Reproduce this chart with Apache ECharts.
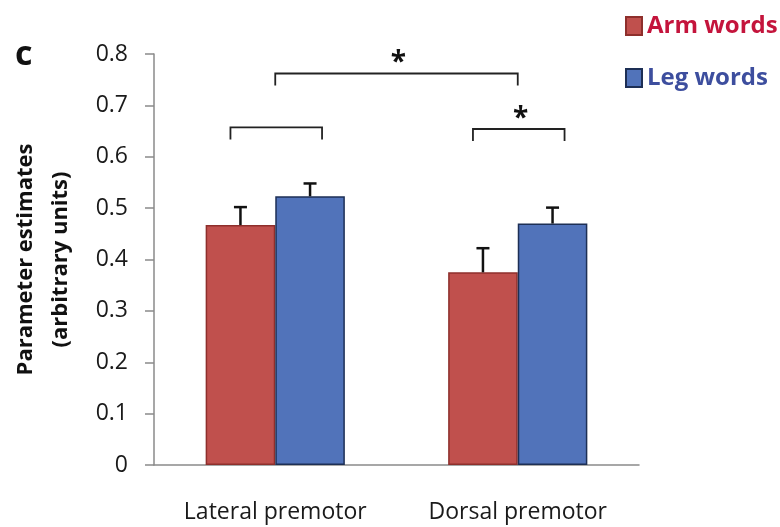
<!DOCTYPE html>
<html>
<head>
<meta charset="utf-8">
<script src="https://cdn.jsdelivr.net/npm/echarts@6/dist/echarts.min.js"></script>
<style>
  html, body { margin: 0; padding: 0; background: #fff; }
  #chart { width: 780px; height: 527px; }
</style>
</head>
<body>
<div id="chart"></div>
<script>
// values
var categories = ['Lateral premotor', 'Dorsal premotor'];
var armWords = [0.467, 0.375];
var legWords = [0.523, 0.470];
var armErrTop = [0.502, 0.422];
var legErrTop = [0.548, 0.501];
var yTickLabels = ['0', '0.1', '0.2', '0.3', '0.4', '0.5', '0.6', '0.7', '0.8'];

// significance brackets: ends as [category, bar], level on y axis, mark above
var bracketEnds = [
    [[0, 'arm'], [0, 'leg']],
    [[1, 'arm'], [1, 'leg']],
    [[0, 'mid'], [1, 'mid']]
];
var bracketLevels = [0.657, 0.654, 0.762];
var bracketMarks = ['', '*', '*'];

var FONT = '"Open Sans", "DejaVu Sans", sans-serif';
var BAR_PCT = 0.287;

var chart = echarts.init(document.getElementById('chart'));

function errorBarSeries(name, errTop, values, side) {
    return {
        name: name + ' err',
        type: 'custom',
        z: 4,
        silent: true,
        data: errTop.map(function (v, i) { return [i, v, values[i]]; }),
        encode: { x: 0, y: 1 },
        renderItem: function (params, api) {
            var band = api.size([1, 0])[0];
            var off = side * band * BAR_PCT / 2;
            var top = api.coord([api.value(0), api.value(1)]);
            var base = api.coord([api.value(0), api.value(2)]);
            var x = top[0] + off;
            var cap = 6.5;
            var style = { stroke: '#111', lineWidth: 2.5 };
            return {
                type: 'group',
                children: [
                    { type: 'line', shape: { x1: x, y1: base[1], x2: x, y2: top[1] }, style: style },
                    { type: 'line', shape: { x1: x - cap, y1: top[1], x2: x + cap, y2: top[1] }, style: style }
                ]
            };
        }
    };
}

chart.setOption({
    animation: false,
    textStyle: { fontFamily: FONT },
    grid: { left: 154, right: 141, top: 54, bottom: 62, outerBoundsMode: 'none', containLabel: false },
    legend: {
        orient: 'vertical',
        left: 625,
        top: 12,
        padding: 0,
        itemWidth: 16,
        itemHeight: 18,
        itemGap: 24,
        selectedMode: false,
        icon: 'rect',
        textStyle: { fontFamily: FONT, fontSize: 24, fontWeight: 'bold', lineHeight: 28 },
        data: [
            { name: 'Arm words', textStyle: { color: '#C4143C' } },
            { name: 'Leg words', textStyle: { color: '#3D4E9E' } }
        ]
    },
    graphic: [{
        type: 'text',
        left: 15,
        top: 38,
        style: { text: 'c', font: 'bold 34px ' + FONT, fill: '#111' }
    }],
    xAxis: {
        type: 'category',
        data: categories,
        axisLine: { lineStyle: { color: '#8a8a8a', width: 1.5 } },
        axisTick: { length: 10, lineStyle: { color: '#8a8a8a', width: 1.5 } },
        axisLabel: { color: '#1a1a1a', fontSize: 23, margin: 36, fontFamily: FONT }
    },
    yAxis: {
        type: 'value',
        min: 0,
        max: 0.8,
        interval: 0.1,
        name: 'Parameter estimates\n(arbitrary units)',
        nameLocation: 'middle',
        nameRotate: 90,
        nameGap: 76,
        nameTextStyle: { color: '#111', fontSize: 22, fontWeight: 'bold', lineHeight: 35, fontFamily: FONT },
        axisLine: { show: true, lineStyle: { color: '#8a8a8a', width: 1.5 } },
        axisTick: { show: true, length: 9, lineStyle: { color: '#8a8a8a', width: 1.5 } },
        splitLine: { show: false },
        axisLabel: {
            color: '#1a1a1a',
            fontSize: 23,
            margin: 26,
            fontFamily: FONT,
            formatter: function (v) { return yTickLabels[Math.round(v * 10)]; }
        }
    },
    series: [
        {
            name: 'Arm words',
            type: 'bar',
            data: armWords,
            barWidth: (BAR_PCT * 100) + '%',
            barGap: '0%',
            itemStyle: { color: '#C0504D', borderColor: '#8E2F2C', borderWidth: 1.5 }
        },
        {
            name: 'Leg words',
            type: 'bar',
            data: legWords,
            barWidth: (BAR_PCT * 100) + '%',
            barGap: '0%',
            itemStyle: { color: '#5173BA', borderColor: '#1D2F55', borderWidth: 1.5 }
        },
        errorBarSeries('Arm words', armErrTop, armWords, -1),
        errorBarSeries('Leg words', legErrTop, legWords, 1),
        {
            name: 'brackets',
            type: 'custom',
            z: 5,
            silent: true,
            clip: false,
            data: bracketLevels.map(function (v, i) { return [bracketEnds[i][0][0], v]; }),
            encode: { x: 0, y: 1 },
            renderItem: function (params, api) {
                var i = params.dataIndex;
                var band = api.size([1, 0])[0];
                var half = band * BAR_PCT / 2;
                var y = api.coord([0, bracketLevels[i]])[1];
                function xOf(end) {
                    var c = api.coord([end[0], 0])[0];
                    if (end[1] === 'arm') return c - half - 10;
                    if (end[1] === 'leg') return c + half + 12;
                    return c;
                }
                var x1 = xOf(bracketEnds[i][0]);
                var x2 = xOf(bracketEnds[i][1]);
                var drop = 12;
                var children = [{
                    type: 'polyline',
                    shape: { points: [[x1, y + drop], [x1, y], [x2, y], [x2, y + drop]] },
                    style: { stroke: '#222', lineWidth: 1.8, fill: null }
                }];
                if (bracketMarks[i]) {
                    children.push({
                        type: 'text',
                        style: {
                            text: bracketMarks[i],
                            x: (x1 + x2) / 2 + 2,
                            y: y - 10,
                            align: 'center',
                            verticalAlign: 'middle',
                            font: 'bold 28px ' + FONT,
                            fill: '#111'
                        }
                    });
                }
                return { type: 'group', children: children };
            }
        }
    ]
});
</script>
</body>
</html>
